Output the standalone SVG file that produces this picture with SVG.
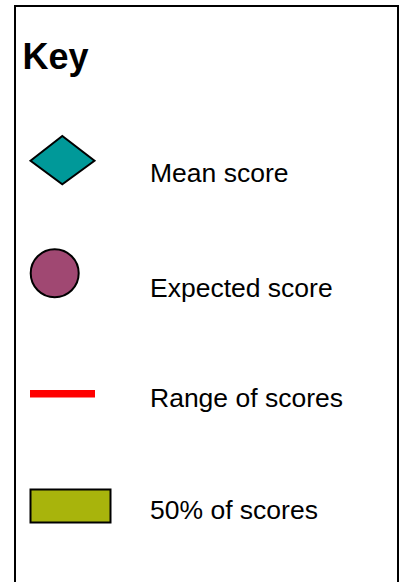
<svg xmlns="http://www.w3.org/2000/svg" width="402" height="582" viewBox="0 0 402 582">
<style>
.lbl{font-family:"Liberation Sans",Arial,sans-serif;font-size:26.5px;fill:#000}
.ttl{font-family:"Liberation Sans",Arial,sans-serif;font-size:36px;font-weight:bold;fill:#000}
.sym{stroke:#000;stroke-width:2}
</style>
<rect width="402" height="582" fill="#fff"/>
<g id="frame"><rect x="15" y="6" width="383" height="600" fill="#fff" stroke="#000" stroke-width="2"/></g>
<g id="title"><text class="ttl" x="22.5" y="68.5">Key</text></g>
<g id="mean"><polygon class="sym" points="30.5,160.7 62.3,136 94.5,160.7 62.3,184.3" fill="#009999"/><text class="lbl" x="150" y="182">Mean score</text></g>
<g id="expected"><circle class="sym" cx="54.7" cy="273.3" r="24" fill="#a04872"/><text class="lbl" x="150" y="297">Expected score</text></g>
<g id="range"><rect x="30" y="390" width="65" height="7.5" fill="#ff0000"/><text class="lbl" x="150" y="407">Range of scores</text></g>
<g id="half"><rect class="sym" x="30.5" y="489.5" width="80" height="33" fill="#a8b40c"/><text class="lbl" x="150" y="519">50% of scores</text></g>
</svg>
